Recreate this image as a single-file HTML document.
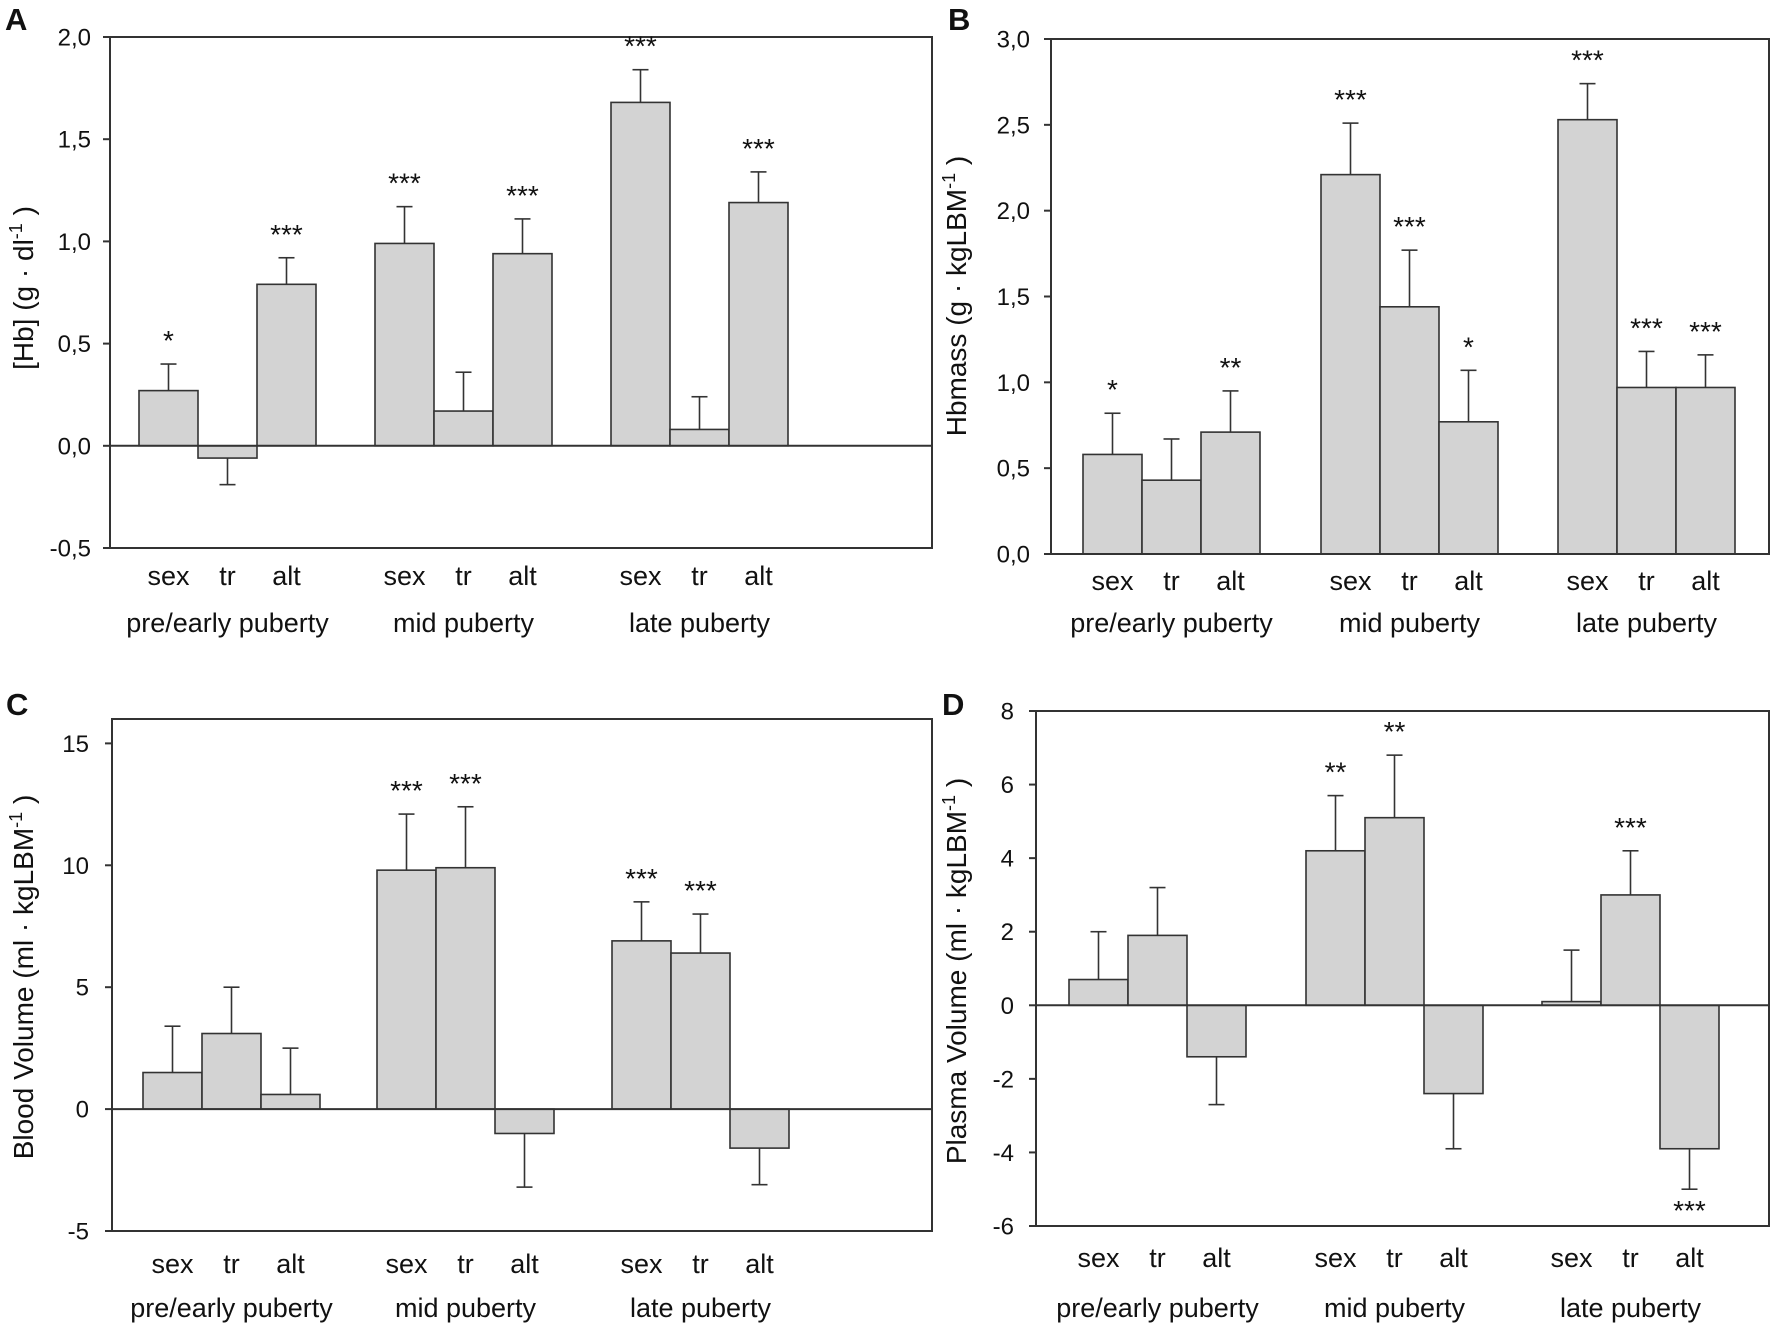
<!DOCTYPE html>
<html><head><meta charset="utf-8">
<style>
html,body{margin:0;padding:0;background:#fff;}
svg{display:block;}
text{font-family:"Liberation Sans",Arial,sans-serif;fill:#111;}
</style></head>
<body>
<svg id="fig" width="1772" height="1324" viewBox="0 0 1772 1324" xmlns="http://www.w3.org/2000/svg"></svg>
<script>
// ---- data ----
const groups = ["pre/early puberty","mid puberty","late puberty"];
const cats = ["sex","tr","alt"];
// Panel A: [Hb]
const valsA = [0.27,-0.06,0.79, 0.99,0.17,0.94, 1.68,0.08,1.19];
const errA  = [0.40,-0.19,0.92, 1.17,0.36,1.11, 1.84,0.24,1.34];
const starsA = ["*","","***","***","","***","***","","***"];
const ticksA = [2.0,1.5,1.0,0.5,0.0,-0.5];
const tickLabelsA = ["2,0","1,5","1,0","0,5","0,0","-0,5"];
// Panel B: Hbmass
const valsB = [0.58,0.43,0.71, 2.21,1.44,0.77, 2.53,0.97,0.97];
const errB  = [0.82,0.67,0.95, 2.51,1.77,1.07, 2.74,1.18,1.16];
const starsB = ["*","","**","***","***","*","***","***","***"];
const ticksB = [3.0,2.5,2.0,1.5,1.0,0.5,0.0];
const tickLabelsB = ["3,0","2,5","2,0","1,5","1,0","0,5","0,0"];
// Panel C: Blood volume
const valsC = [1.5,3.1,0.6, 9.8,9.9,-1.0, 6.9,6.4,-1.6];
const errC  = [3.4,5.0,2.5, 12.1,12.4,-3.2, 8.5,8.0,-3.1];
const starsC = ["","","","***","***","","***","***",""];
const ticksC = [15,10,5,0,-5];
const tickLabelsC = ["15","10","5","0","-5"];
// Panel D: Plasma volume
const valsD = [0.7,1.9,-1.4, 4.2,5.1,-2.4, 0.1,3.0,-3.9];
const errD  = [2.0,3.2,-2.7, 5.7,6.8,-3.9, 1.5,4.2,-5.0];
const starsD = ["","","","**","**","","","***","***"];
const ticksD = [8,6,4,2,0,-2,-4,-6];
const tickLabelsD = ["8","6","4","2","0","-2","-4","-6"];

const NS="http://www.w3.org/2000/svg";
const svg=document.getElementById('fig');
function mk(tag,attrs,parent){const e=document.createElementNS(NS,tag);for(const k in attrs)e.setAttribute(k,attrs[k]);(parent||svg).appendChild(e);return e;}

function panel(cfg){
  const g=mk('g',{});
  
  
  const y=v=>cfg.y0+(cfg.ymax-v)/(cfg.ymax-cfg.ymin)*(cfg.y1-cfg.y0);
  const fr=mk('rect',{x:cfg.x0,y:cfg.y0,width:cfg.x1-cfg.x0,height:cfg.y1-cfg.y0,fill:'none',stroke:'#333','stroke-width':2},g);
  
  
  cfg.ticks.forEach((t,i)=>{
    const yy=y(t);
    const tk=mk('line',{x1:cfg.x0-7,x2:cfg.x0,y1:yy,y2:yy,stroke:'#333','stroke-width':2},g);
    
    
    const tl=mk('text',{x:cfg.tickX,y:yy+8.5,'text-anchor':'end','font-size':24},g);
    tl.textContent=cfg.tickLabels[i];
    
    
  });
  cfg.vals.forEach((v,i)=>{
    const gi=Math.floor(i/3), ci=i%3;
    const bx=cfg.gStart[gi]+ci*cfg.bw;
    const top=Math.min(y(v),y(0)), h=Math.abs(y(v)-y(0));
    const r=mk('rect',{x:bx,y:top,width:cfg.bw,height:Math.max(h,1),fill:'#d3d3d3',stroke:'#333','stroke-width':1.6},g);
    
    
    const cx=bx+cfg.bw/2, ye=y(cfg.err[i]);
    const el=mk('line',{x1:cx,x2:cx,y1:y(v),y2:ye,stroke:'#333','stroke-width':1.6},g);
    
    
    const cp=mk('line',{x1:cx-8,x2:cx+8,y1:ye,y2:ye,stroke:'#333','stroke-width':1.6},g);
    
    
    if(cfg.stars[i]){
      const below=cfg.err[i]<0;
      const st=mk('text',{x:cx,y:below?ye+31:ye-14,'text-anchor':'middle','font-size':28},g);
      st.textContent=cfg.stars[i];
      
      
    }
    const cl=mk('text',{x:cx,y:cfg.catY,'text-anchor':'middle','font-size':27},g);
    cl.textContent=cats[ci];
    
    
  });
  const z=mk('line',{x1:cfg.x0,x2:cfg.x1,y1:y(0),y2:y(0),stroke:'#333','stroke-width':2},g);
  
  
  groups.forEach((gn,gi)=>{
    const t=mk('text',{x:cfg.gStart[gi]+1.5*cfg.bw,y:cfg.grpY,'text-anchor':'middle','font-size':27},g);
    t.textContent=gn;
    
    
  });
  const yt=mk('text',{x:0,y:0,'text-anchor':'middle','font-size':28,transform:`translate(${cfg.titleX},${cfg.titleY}) rotate(-90)`},g);
  yt.innerHTML=cfg.title;
  
  
  const pl=mk('text',{x:cfg.letterX,y:cfg.letterY,'font-size':31,'font-weight':'bold'},g);
  pl.textContent=cfg.id;
  
  
}
const sup='<tspan dy="-11" font-size="18">-1</tspan><tspan dy="11"> )</tspan>';
panel({id:'A',x0:110,x1:932,y0:37,y1:548,ymin:-0.5,ymax:2.0,ticks:ticksA,tickLabels:tickLabelsA,tickX:91,
  vals:valsA,err:errA,stars:starsA,gStart:[139,375,611],bw:59,catY:585,grpY:632,
  title:'[Hb] (g · dl'+sup,titleX:33,titleY:288,letterX:5,letterY:30});
panel({id:'B',x0:1051,x1:1769,y0:39,y1:554,ymin:0,ymax:3.0,ticks:ticksB,tickLabels:tickLabelsB,tickX:1030,
  vals:valsB,err:errB,stars:starsB,gStart:[1083,1321,1558],bw:59,catY:590,grpY:632,
  title:'Hbmass (g · kgLBM'+sup,titleX:966,titleY:296,letterX:948,letterY:30});
panel({id:'C',x0:112,x1:932,y0:719,y1:1231,ymin:-5,ymax:16,ticks:ticksC,tickLabels:tickLabelsC,tickX:89,
  vals:valsC,err:errC,stars:starsC,gStart:[143,377,612],bw:59,catY:1273,grpY:1317,
  title:'Blood Volume (ml · kgLBM'+sup,titleX:33,titleY:977,letterX:6,letterY:715});
panel({id:'D',x0:1036,x1:1769,y0:711,y1:1226,ymin:-6,ymax:8,ticks:ticksD,tickLabels:tickLabelsD,tickX:1014,
  vals:valsD,err:errD,stars:starsD,gStart:[1069,1306,1542],bw:59,catY:1267,grpY:1317,
  title:'Plasma Volume (ml · kgLBM'+sup,titleX:966,titleY:971,letterX:942,letterY:715});
</script>
</body></html>
